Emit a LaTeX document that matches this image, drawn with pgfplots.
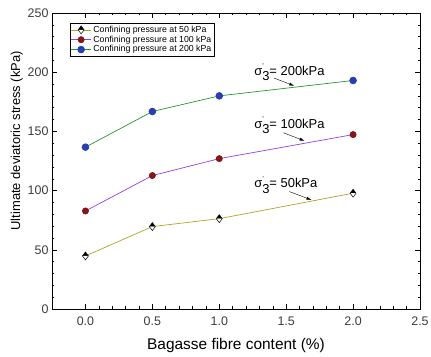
\documentclass[border=0pt]{standalone}
\usepackage{fontspec}
\setmainfont{Liberation Sans}
\usepackage{pgfplots}
\pgfplotsset{compat=1.18}
\usetikzlibrary{plotmarks,arrows.meta}
\definecolor{oliveline}{RGB}{170,165,40}
\definecolor{purpleline}{RGB}{150,60,225}
\definecolor{greenline}{RGB}{40,150,40}
\definecolor{redmark}{RGB}{140,20,20}
\definecolor{bluemark}{RGB}{40,60,180}
\definecolor{ticktext}{RGB}{60,60,60}
\newcommand{\sig}[1]{σ\rlap{\raisebox{1.0ex}{\scriptsize '}}\raisebox{-0.75ex}{3}= #1kPa}
\begin{document}
\begin{tikzpicture}
\useasboundingbox (-52bp,-48bp) rectangle (379bp,296bp+13bp);
\begin{axis}[
  at={(0,0)}, anchor=south west,
  scale only axis, width=368bp, height=296bp,
  xmin=-0.25, xmax=2.5, ymin=0, ymax=250,
  xtick={0,0.5,1,1.5,2,2.5},
  xticklabels={0.0,0.5,1.0,1.5,2.0,2.5},
  ytick={0,50,100,150,200,250},
  minor x tick num=4, minor y tick num=4,
  tick align=inside, tick pos=both,
  major tick length=5bp, minor tick length=2.5bp,
  every tick/.style={black, line width=0.5pt},
  axis line style={line width=0.7pt},
  /pgf/number format/assume math mode=true,
  tick label style={font=\fontsize{12.5}{14}\selectfont, text=ticktext},
  xticklabel style={yshift=-4bp},
  xlabel={Bagasse fibre content (\%)},
  ylabel={Ultimate deviatoric stress (kPa)},
  xlabel style={font=\fontsize{15.5}{18}\selectfont, yshift=-6bp},
  ylabel style={font=\fontsize{13}{15}\selectfont, at={(ticklabel cs:0.568)}, yshift=-2bp},
  legend style={at={(0.048,0.967)}, anchor=north west, font=\fontsize{8.8}{10}\selectfont,
    draw=black, line width=0.4pt, inner sep=1pt, row sep=-2pt, fill=white},
  legend cell align=left,
  legend image code/.code={
    \draw[mark repeat=2,mark phase=2,#1] plot coordinates {(0cm,0cm) (0.35cm,0cm) (0.7cm,0cm)};
  },
]
\addplot[color=oliveline, line width=0.7pt, mark=halfdiamond*, mark size=4pt,
  mark options={rotate=180, fill=black, draw=black, line width=0.5pt}]
  coordinates {(0,44.8) (0.5,69.6) (1,76.3) (2,97.8)};
\addlegendentry{Confining pressure at 50 kPa}
\addplot[color=purpleline, line width=0.7pt, mark=*, mark size=3.2pt,
  mark options={fill=redmark, draw=redmark!70!black, line width=0.4pt}]
  coordinates {(0,82.8) (0.5,112.7) (1,127) (2,147.3)};
\addlegendentry{Confining pressure at 100 kPa}
\addplot[color=greenline, line width=0.7pt, mark=*, mark size=3.4pt,
  mark options={fill=bluemark, draw=bluemark}]
  coordinates {(0,136.7) (0.5,166.8) (1,180) (2,193)};
\addlegendentry{Confining pressure at 200 kPa}

\node[anchor=west, font=\fontsize{13}{15}\selectfont, inner sep=0pt] at (axis cs:1.26,200) {\sig{200}};
\node[anchor=west, font=\fontsize{13}{15}\selectfont, inner sep=0pt] at (axis cs:1.26,155.5) {\sig{100}};
\node[anchor=west, font=\fontsize{13}{15}\selectfont, inner sep=0pt] at (axis cs:1.26,105) {\sig{50}};
\draw[-{Latex[length=5pt,width=3pt]}, line width=0.4pt] (axis cs:1.41,195) -- (axis cs:1.56,188.5);
\draw[-{Latex[length=5pt,width=3pt]}, line width=0.4pt] (axis cs:1.48,148.8) -- (axis cs:1.637,142);
\draw[-{Latex[length=5pt,width=3pt]}, line width=0.4pt] (axis cs:1.524,99.2) -- (axis cs:1.689,92.1);
\end{axis}
\end{tikzpicture}
\end{document}
